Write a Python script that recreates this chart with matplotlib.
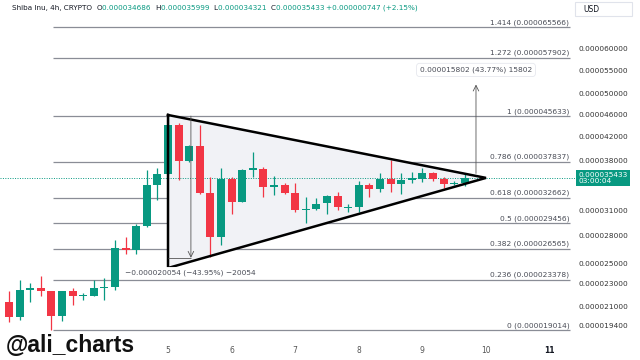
import matplotlib
matplotlib.use('Agg')
import matplotlib.pyplot as plt
import matplotlib.transforms as mtransforms
from matplotlib.patches import Rectangle
from matplotlib.ticker import NullLocator
import numpy as np

GREEN = '#089981'
RED = '#f23645'

# 4h candles, prices in units of 1e-6 USD, first candle at day 2 12:00
t_start = 2.5
step = 4 / 24
opens = [21.32, 20.05, 22.39, 22.66, 22.30, 20.21, 22.30, 21.85, 21.85, 22.57,
         22.75, 26.66, 26.44, 29.16, 34.45, 36.03, 43.99, 38.00, 40.38, 33.35,
         27.88, 35.30, 32.15, 36.62, 36.77, 34.17, 34.45, 33.35, 31.12, 31.24,
         32.02, 32.94, 31.37, 31.50, 34.45, 33.89, 35.30, 34.59, 35.16, 35.30,
         36.18, 35.30, 34.59, 34.686]
highs = [22.30, 23.37, 23.12, 23.79, 22.35, 22.35, 22.66, 22.16, 23.37, 23.56,
         27.51, 27.88, 29.37, 36.62, 36.92, 45.83, 44.36, 40.50, 43.99, 35.59,
         36.92, 35.59, 36.70, 39.41, 37.07, 35.74, 34.73, 34.73, 32.81, 32.67,
         33.08, 33.48, 31.89, 35.01, 34.73, 36.18, 38.14, 36.18, 36.33, 36.92,
         36.33, 35.59, 35.01, 35.999]
lows = [19.72, 19.85, 21.40, 21.85, 19.09, 19.77, 21.10, 21.54, 21.85, 21.54,
        22.43, 25.99, 25.99, 29.04, 32.41, 35.90, 35.16, 37.90, 33.25, 25.70,
        26.98, 30.61, 32.10, 35.59, 32.81, 33.08, 33.21, 30.87, 29.51, 31.12,
        30.61, 31.12, 30.87, 30.87, 32.81, 33.48, 33.48, 33.21, 34.73, 34.87,
        35.01, 34.03, 34.45, 34.321]
closes = [20.13, 22.39, 22.57, 22.30, 20.21, 22.30, 21.85, 21.89, 22.57, 22.75,
          26.66, 26.44, 29.16, 34.45, 36.03, 43.99, 38.00, 40.38, 33.35, 27.88,
          35.30, 32.15, 36.62, 36.92, 34.17, 34.45, 33.35, 31.12, 31.24, 31.89,
          32.94, 31.50, 31.50, 34.45, 33.89, 35.30, 34.59, 35.16, 35.45, 36.18,
          35.30, 34.59, 34.73, 35.433]

fib_levels = [1.414, 1.272, 1, 0.786, 0.618, 0.5, 0.382, 0.236, 0]
fib_prices = [65.566, 57.902, 45.633, 37.837, 32.662, 29.456, 26.565, 23.378, 19.014]
axis_ticks = [60, 55, 50, 46, 42, 38, 31, 28, 25, 23, 21, 19.4]
day_ticks = [5, 6, 7, 8, 9, 10, 11]

# triangle (day, price)
tri_x = [5.0, 10.0, 5.0]
tri_y = [45.83, 35.45, 24.54]

# measure tools
down_x, down_from, down_to = 5.36, 45.633, 25.579
down_text = '\u22120.000020054 (\u221243.95%) \u221220054'
up_x, up_from, up_to = 9.843, 36.10, 51.90
up_text = '0.000015802 (43.77%) 15802'

last_close = 35.433
header = [('Shiba Inu, 4h, CRYPTO  ', '#131722'),
          ('O', '#131722'), ('0.000034686  ', GREEN),
          ('H', '#131722'), ('0.000035999  ', GREEN),
          ('L', '#131722'), ('0.000034321  ', GREEN),
          ('C', '#131722'), ('0.000035433 ', GREEN),
          ('+0.000000747 (+2.15%)', GREEN)]

fig = plt.figure(figsize=(6.4, 3.6), dpi=100)
ax = fig.add_axes([0, 22 / 360, 575 / 640, 318 / 360])
ax.set_yscale('log')
ax.set_xlim(2.358, 11.40)
ax.set_ylim(18.44, 67.54)
for s in ax.spines.values():
    s.set_visible(False)

# fib lines
ax.hlines(fib_prices, 3.19, 11.32, color='#8a8d96', lw=0.9, zorder=1)
lab_tr = ax.transData + mtransforms.ScaledTranslation(0, 1.5 / 100, fig.dpi_scale_trans)
for lvl, p in zip(fib_levels, fib_prices):
    ax.text(11.31, p, f'{lvl:g} ({p / 1e6:.9f})', transform=lab_tr, ha='right',
            va='bottom', fontsize=5.4, color='#4a4d57')

# triangle
ax.fill(tri_x, tri_y, color='#f1f2f6', zorder=1.5)
ax.plot(tri_x + [tri_x[0]], tri_y + [tri_y[0]], color='black', lw=1.8, zorder=4,
        solid_joinstyle='miter')

# current price line
ax.axhline(last_close, color=GREEN, lw=0.7, ls=(0, (1, 1.5)), zorder=2)

# candles
t = t_start + np.arange(len(opens)) * step
o = np.array(opens)
c = np.array(closes)
cols = [GREEN if cc >= oo else RED for oo, cc in zip(o, c)]
ax.vlines(t, lows, highs, colors=cols, lw=0.9, zorder=3)
bottom = np.minimum(o, c)
height = np.maximum(np.abs(c - o), bottom * 0.004)
ax.bar(t, height, bottom=bottom, width=0.125, color=cols, zorder=3)

# measure tools
ax.hlines(down_to, 5.0, down_x, color='#555', lw=0.6, zorder=5)
ax.annotate('', xy=(down_x, down_to), xytext=(down_x, down_from),
            arrowprops=dict(arrowstyle='->', color='#555', lw=0.6,
                            shrinkA=0, shrinkB=0), zorder=5)
ax.text(5.35, 24.05, down_text, ha='center', va='center', fontsize=5.4,
        color='#4a4d57', zorder=6,
        bbox=dict(boxstyle='round,pad=0.35', fc='white', ec='none'))
ax.annotate('', xy=(up_x, up_to), xytext=(up_x, up_from),
            arrowprops=dict(arrowstyle='->', color='#555', lw=0.6,
                            shrinkA=0, shrinkB=0), zorder=5)
ax.text(up_x, 55.08, up_text, ha='center', va='center', fontsize=5.4,
        color='#4a4d57', zorder=6,
        bbox=dict(boxstyle='round,pad=0.45', fc='white', ec='#e6e8ee', lw=0.6))

# axes ticks
ax.yaxis.tick_right()
ax.set_yticks(axis_ticks)
ax.set_yticklabels([f'{v / 1e6:.9f}' for v in axis_ticks])
ax.yaxis.set_minor_locator(NullLocator())
ax.tick_params(axis='y', which='both', length=0, pad=2.2, labelsize=5.3,
               labelcolor='#333')
ax.set_xticks(day_ticks)
ax.set_xticklabels([str(d) for d in day_ticks])
ax.tick_params(axis='x', length=0, pad=6, labelsize=5.5, labelcolor='#555')
ax.get_xticklabels()[-1].set_fontweight('bold')
ax.get_xticklabels()[-1].set_color('#131722')

# last price box
bt = mtransforms.blended_transform_factory(ax.transAxes, ax.transData)
ax.text(1.0055, last_close, '0.000035433\n03:00:04', transform=bt, ha='left',
        va='center', color='white', fontsize=5.3, linespacing=1.05, clip_on=False,
        bbox=dict(boxstyle='square,pad=0.3', fc=GREEN, ec='none'))

# USD box
fig.patches.append(Rectangle((575 / 640, 1 - 16 / 360), 57 / 640, 14 / 360,
                             transform=fig.transFigure, fc='white',
                             ec='#e0e3eb', lw=0.8))
fig.text(583 / 640, 1 - 9 / 360, 'USD', fontsize=5.5, color='#131722', va='center')

# header
renderer = fig.canvas.get_renderer()
xpos = 12
for txt, col in header:
    tt = fig.text(xpos / 640, 1 - 8 / 360, txt, fontsize=5.2, color=col,
                  va='center', ha='left')
    xpos += tt.get_window_extent(renderer).width

fig.text(6 / 640, 1 - 345 / 360, '@ali_charts', fontsize=16.5, fontweight='bold',
         family='Liberation Sans', color='#111', va='center', ha='left')

fig.savefig('out.png', dpi=100)
